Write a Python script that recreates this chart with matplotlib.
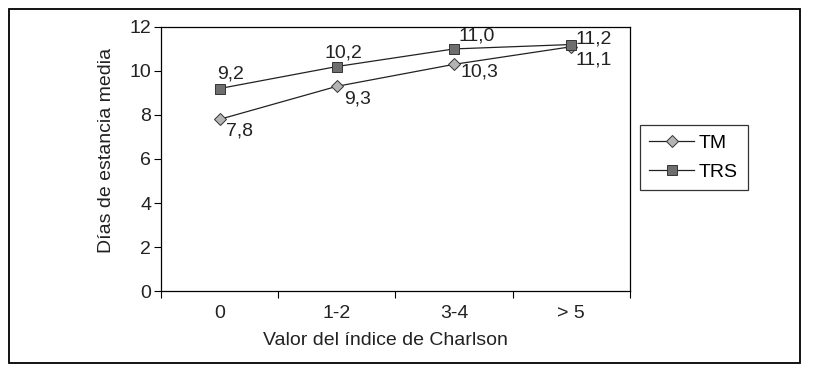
import matplotlib
matplotlib.use("Agg")
import numpy as np
from matplotlib import pyplot as plt
from matplotlib.patches import Rectangle

plt.rcParams['font.family'] = ['Liberation Sans', 'DejaVu Sans']

# Datos
categorias = ["0", "1-2", "3-4", "> 5"]
tm = [7.8, 9.3, 10.3, 11.1]
trs = [9.2, 10.2, 11.0, 11.2]
etiquetas_tm = ["7,8", "9,3", "10,3", "11,1"]
etiquetas_trs = ["9,2", "10,2", "11,0", "11,2"]

# desplazamiento de las etiquetas (pixeles)
desp_tm = [(6, -12), (7, -13), (6, -8), (4, -13)]
desp_trs = [(-2, 15), (-12, 14), (4, 13), (4, 6)]

fs = 14
gris = '#222222'

fig = plt.figure(figsize=(8.17, 3.79), dpi=100)
ax = fig.add_axes([0.197, 0.232, 0.574, 0.697])

# marco exterior
fig.patches.append(Rectangle((0.011, 0.042), 0.968, 0.934, transform=fig.transFigure,
                             fill=False, edgecolor='black', linewidth=1.3))

x = np.arange(len(categorias))
ax.plot(x, tm, color=gris, linewidth=0.9, marker='D', markersize=6.5,
        markerfacecolor='#b4b4b4', markeredgecolor='#333333', markeredgewidth=0.7, label='TM')
ax.plot(x, trs, color=gris, linewidth=0.9, marker='s', markersize=6.5,
        markerfacecolor='#6e6e6e', markeredgecolor='#333333', markeredgewidth=0.7, label='TRS')

for xi, yi, t, d in zip(x, tm, etiquetas_tm, desp_tm):
    ax.annotate(t, (xi, yi), xytext=d, textcoords='offset pixels',
                ha='left', va='center', fontsize=fs, color=gris)
for xi, yi, t, d in zip(x, trs, etiquetas_trs, desp_trs):
    ax.annotate(t, (xi, yi), xytext=d, textcoords='offset pixels',
                ha='left', va='center', fontsize=fs, color=gris)

ax.set_xlim(-0.5, 3.5)
ax.set_ylim(0, 12)
ax.set_yticks(np.arange(0, 13, 2))
ax.set_xticks(np.arange(-0.5, 4, 1))
ax.set_xticklabels([])
ax.set_xticks(x, minor=True)
ax.set_xticklabels(categorias, minor=True)
ax.tick_params(axis='x', which='major', direction='out', length=5, width=0.8)
ax.tick_params(axis='x', which='minor', length=0, pad=10, labelsize=fs, labelcolor=gris)
ax.tick_params(axis='y', direction='out', length=5, width=0.8, pad=2, labelsize=fs, labelcolor=gris)

for s in ax.spines.values():
    s.set_linewidth(0.9)

ax.set_ylabel("Días de estancia media", fontsize=fs, color=gris)
ax.yaxis.set_label_coords(-0.098, 0.534)
ax.set_xlabel("Valor del índice de Charlson", fontsize=fs, color=gris)
ax.xaxis.set_label_coords(0.478, -0.155)

leg = ax.legend(loc='upper left', bbox_to_anchor=(1.021, 0.629), fontsize=fs, frameon=True,
                fancybox=False, edgecolor='black', handlelength=2.3, borderpad=0.5,
                borderaxespad=0, labelspacing=0.55, handletextpad=0.25)
leg.get_frame().set_linewidth(0.9)

plt.savefig("out.png", dpi=100)
